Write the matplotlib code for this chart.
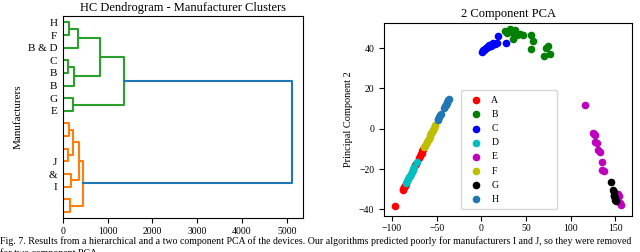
import numpy as np
import matplotlib.pyplot as plt

plt.rcParams['font.family'] = ['Liberation Serif', 'DejaVu Serif']

# ---- dendrogram data ----
leaf_labels = ['H', 'F', 'B & D', 'C', 'B', 'B', 'G', 'E',
               '', '', '', 'J', '&', 'I', '', '']
# merges: (child a, child b, distance); leaves are 0..15, merges 16..
merges = [
    (0, 1, 140), (16, 2, 327), (3, 4, 120), (18, 5, 238), (17, 19, 831),
    (6, 7, 216), (20, 21, 1366),
    (8, 9, 127), (10, 11, 110), (23, 24, 216), (12, 13, 178), (25, 26, 356),
    (14, 15, 156), (27, 28, 445),
    (22, 29, 5107),
]
merge_colors = ['C2'] * 7 + ['C1'] * 7 + ['C0']

# ---- PCA scatter data ----
A_x = [-97, -88, -87.2, -86.4, -85.6, -84.8, -74, -73.2, -70, -69, -68, -67, -66, -65]
A_y = [-38.2, -30.4, -29.7, -29.0, -28.3, -27.6, -18.1, -17.4, -14.6, -13.7, -12.8, -11.9, -11.0, -10.2]
B_x = [27, 28.8, 31.7, 34.4, 36.2, 37.5, 40, 43, 46.7, 35.5, 55.5, 57.9, 55.6, 72, 74.2, 70.5, 76.5]
B_y = [48.7, 47.4, 49.4, 48.2, 47.1, 48.8, 46.6, 47.2, 46.6, 44.5, 46.6, 43.6, 39.5, 40.1, 40.8, 36.2, 37.2]
C_x = [1, 2, 3, 4, 5, 6, 7, 8, 9, 10, 11, 12, 13, 14, 15, 17, 18.3, 27.3]
C_y = [38.2, 38.8, 39.2, 39.6, 40.0, 40.3, 40.6, 41.0, 41.4, 41.6, 41.2, 41.9, 42.3, 41.8, 42.0, 42.5, 46.0, 42.6]
D_x = [-84, -83, -82, -81, -80, -79, -78, -77, -76, -75, -71.5]
D_y = [-26.9, -26.0, -25.1, -24.2, -23.4, -22.5, -21.6, -20.7, -19.8, -19.0, -16.5]
E_x = [115.7, 124.5, 126, 127.5, 127, 129, 130.5, 132.5, 134.5, 135.5, 136.8, 153, 154.5, 155.5, 156]
E_y = [12.0, -1.9, -2.4, -3.0, -6.8, -7.2, -10.8, -11.6, -16.3, -20.6, -21.2, -32.2, -33.4, -37.0, -37.8]
F_x = [-64, -63, -62, -61, -60, -59, -58, -57, -56, -55, -54, -53, -52, -51.5]
F_y = [-9.3, -8.4, -7.5, -6.6, -5.8, -4.9, -4.0, -3.1, -2.2, -1.4, -0.5, 0.4, 1.3, 1.7]
G_x = [145.5, 147, 148, 148.5, 149, 149.5, 150, 150.5]
G_y = [-26.3, -30.6, -31.6, -32.8, -33.6, -34.6, -35.3, -35.9]
H_x = [-49, -48, -47, -46, -45, -42, -41, -40, -39, -38, -37, -36]
H_y = [4.2, 5.0, 5.8, 6.6, 7.4, 10.4, 11.1, 11.9, 12.6, 13.4, 14.1, 14.6]

groups = {'A': (A_x, A_y, 'r'), 'B': (B_x, B_y, 'g'), 'C': (C_x, C_y, 'b'),
          'D': (D_x, D_y, 'c'), 'E': (E_x, E_y, 'm'), 'F': (F_x, F_y, 'y'),
          'G': (G_x, G_y, 'k'), 'H': (H_x, H_y, '#1f77b4')}

fig = plt.figure(figsize=(6.4, 2.52), dpi=100)

# dendrogram
ax1 = fig.add_axes([0.0984, 0.134, 0.375, 0.802])
n = len(leaf_labels)
pos = {i: 5 + 10 * i for i in range(n)}
height = {i: 0 for i in range(n)}
for k, (a, b, d) in enumerate(merges):
    node = n + k
    ax1.plot([height[a], d, d, height[b]], [pos[a], pos[a], pos[b], pos[b]],
             color=merge_colors[k], lw=1.5)
    pos[node] = (pos[a] + pos[b]) / 2
    height[node] = d
ax1.set_xlim(0, merges[-1][2] * 1.05)
ax1.set_ylim(10 * n, 0)
ax1.set_yticks([5 + 10 * i for i in range(n)])
ax1.set_yticklabels(leaf_labels, fontsize=8)
ax1.tick_params(axis='y', length=0, pad=4)
ax1.tick_params(axis='x', labelsize=7, pad=2.5)
ax1.set_ylabel('Manufacturers', fontsize=8)
ax1.set_title('HC Dendrogram - Manufacturer Clusters', fontsize=9, pad=4)

# PCA
ax2 = fig.add_axes([0.6, 0.143, 0.388, 0.767])
for name, (xs, ys, col) in groups.items():
    ax2.scatter(xs, ys, s=20, color=col, label=name)
ax2.set_xlim(-109, 169)
ax2.set_ylim(-43.3, 52.6)
ax2.set_yticks([-40, -20, 0, 20, 40])
ax2.tick_params(labelsize=7)
ax2.tick_params(axis='x', pad=2.5)
ax2.set_ylabel('Principal Component 2', fontsize=7.5)
ax2.set_title('2 Component PCA', fontsize=9, pad=4)
ax2.legend(loc='lower left', bbox_to_anchor=(0.309, 0.035, 0.387, 0.592),
           mode='expand', fontsize=7, labelspacing=0.53, scatterpoints=1,
           borderaxespad=0, borderpad=0.55, handletextpad=0.6)

fig.text(0.0, 0.033, 'Fig. 7. Results from a hierarchical and a two component PCA of the devices. '
         'Our algorithms predicted poorly for manufacturers I and J, so they were removed',
         fontsize=7.15, ha='left', va='baseline')
fig.text(0.0, -0.016, 'for two component PCA.', fontsize=7.15, ha='left', va='baseline')

fig.savefig('out.png', dpi=100)
